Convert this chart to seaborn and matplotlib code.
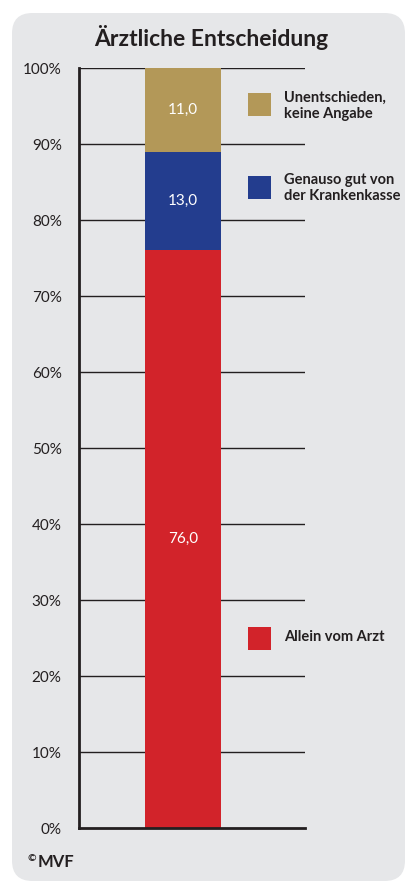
import matplotlib
matplotlib.use("Agg")
import matplotlib.pyplot as plt
import seaborn as sns
import pandas as pd
import numpy as np
from matplotlib.patches import FancyBboxPatch, Rectangle

categories = ["Allein vom Arzt", "Genauso gut von\nder Krankenkasse", "Unentschieden,\nkeine Angabe"]
values = [76.0, 13.0, 11.0]
colors = ["#d2232a", "#233d8e", "#b39858"]
title = "Ärztliche Entscheidung"
yticks = [0, 10, 20, 30, 40, 50, 60, 70, 80, 90, 100]
ytick_labels = [f"{t}%" for t in yticks]
value_labels = ["76,0", "13,0", "11,0"]

sns.set_style("white")
plt.rcParams['font.family'] = ['Lato', 'DejaVu Sans']

W, H = 409, 882
fig = plt.figure(figsize=(W / 100, H / 100), dpi=100)
fig.patch.set_facecolor("white")

# rounded background panel
bg = FancyBboxPatch((12 / W, (H - 881) / H), (405 - 12) / W, (881 - 13) / H,
                    boxstyle="round,pad=0,rounding_size=0.05",
                    transform=fig.transFigure, facecolor="#e6e7e9",
                    edgecolor="none", zorder=-5, mutation_aspect=W / H)
fig.patches.append(bg)

ax = fig.add_axes([79 / W, 1 - 828 / H, (305 - 79) / W, (828 - 68) / H])
ax.set_facecolor("none")
ax.set_zorder(1)

cum = np.cumsum(values)
# draw from tallest (top) to shortest so lower segments cover
for i in [2, 1, 0]:
    sns.barplot(x=["x"], y=[cum[i]], color=colors[i], width=0.8,
                saturation=1, ax=ax, zorder=3, edgecolor="none", linewidth=0)

ax.set_xlim(-1.095, 1.285)
ax.set_ylim(0, 100)
ax.set_yticks(yticks)
ax.set_yticklabels(ytick_labels, fontsize=11, color="#231f20")
ax.set_xticks([])
ax.set_xlabel("")
ax.set_ylabel("")
ax.tick_params(axis="y", length=0, pad=12.5)
for t in yticks[1:]:
    ax.axhline(t, color="#231f20", lw=1.0, zorder=1)
for s in ["top", "right"]:
    ax.spines[s].set_visible(False)
for s in ["left", "bottom"]:
    ax.spines[s].set_color("#231f20")
    ax.spines[s].set_linewidth(2.0)
    ax.spines[s].set_zorder(4)

# value labels
bottoms = cum - np.array(values)
for i in range(3):
    ax.text(0, bottoms[i] + values[i] / 2, value_labels[i],
            ha="center", va="center", color="white", fontsize=11, zorder=5)

fig.text(211 / W, 1 - 38 / H, title, ha="center", va="center",
         fontsize=16.5, fontweight="bold", color="#231f20")

# legend
leg_y = [637, 188, 106]
for i in range(3):
    yc = leg_y[i]
    sq_y = [638, 187, 104][i]
    fig.patches.append(Rectangle((248 / W, 1 - (sq_y + 11.5) / H), 23 / W, 23 / H,
                                 transform=fig.transFigure, facecolor=colors[i],
                                 edgecolor="none", zorder=2))
    fig.text(284 / W, 1 - yc / H, categories[i], ha="left", va="center",
             fontsize=10.5, fontweight="bold", color="#231f20", linespacing=1.2)

fig.text(28 / W, 1 - 859 / H, "©", ha="left", va="center", fontsize=7.5,
         fontweight="bold", color="#231f20")
fig.text(38 / W, 1 - 862 / H, "MVF", ha="left", va="center", fontsize=12,
         fontweight="bold", color="#231f20")

fig.savefig("out.png", dpi=100, facecolor=fig.get_facecolor())
